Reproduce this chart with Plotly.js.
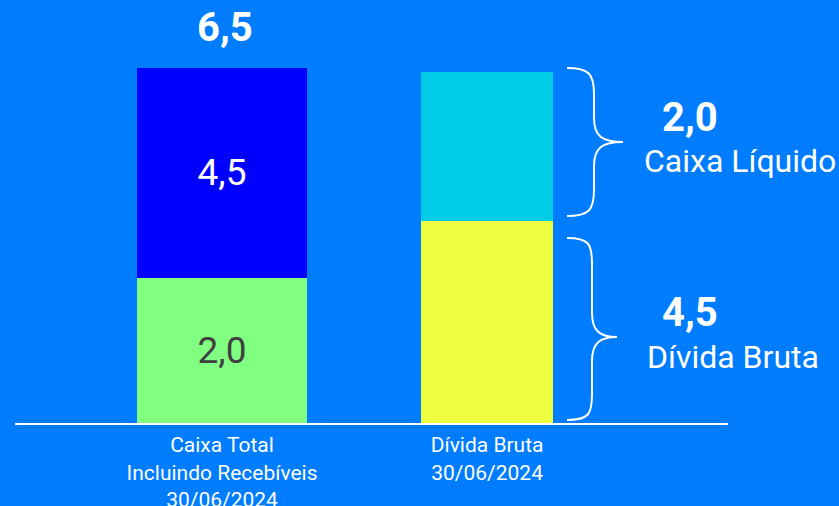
<!DOCTYPE html>
<html>
<head>
<meta charset="utf-8">
<script src="https://cdn.plot.ly/plotly-3.0.1.min.js"></script>
<style>
html,body{margin:0;padding:0;background:#007CFF;}
#chart{width:839px;height:506px;}
</style>
</head>
<body>
<div id="chart"></div>
<script>
// ---- data ----
const categories = ['Caixa Total<br>Incluindo Recebíveis<br>30/06/2024', 'Dívida Bruta<br>30/06/2024'];
// segment heights as drawn in the picture (the picture is not to scale)
const bottomHeights = [2.66, 3.70];
const topHeights = [3.84, 2.73];
// value labels printed on the chart
const bottomLabels = ['2,0', ''];
const topLabels = ['4,5', ''];
const totalLabel = '6,5';
const caixaLiquidoValue = '2,0';
const caixaLiquidoName = 'Caixa Líquido';
const dividaBrutaValue = '4,5';
const dividaBrutaName = 'Dívida Bruta';

// ---- layout helpers ----
const W = 839, H = 506, B = 83;
const PH = H - B;
const pxX = p => p / W;
const pxY = p => 1 - p / PH;
const pxPerUnit = 54.6;

function bracePath(xl, xv, xt, yt, ym, yb) {
  const P = (x, y) => pxX(x).toFixed(5) + ',' + pxY(y).toFixed(5);
  return 'M' + P(xl, yt) +
    ' C' + P(xl + 22, yt) + ' ' + P(xv, yt + 6) + ' ' + P(xv, yt + 26) +
    ' L' + P(xv, ym - 24) +
    ' C' + P(xv, ym - 6) + ' ' + P(xv + 8, ym) + ' ' + P(xt, ym) +
    ' C' + P(xv + 8, ym) + ' ' + P(xv, ym + 6) + ' ' + P(xv, ym + 24) +
    ' L' + P(xv, yb - 26) +
    ' C' + P(xv, yb - 6) + ' ' + P(xl + 22, yb) + ' ' + P(xl, yb);
}

const font = 'Roboto, "Open Sans", sans-serif';
const total = bottomHeights[0] + topHeights[0];

const traces = [
  {
    type: 'bar', x: categories, y: bottomHeights,
    width: [0.642, 0.498],
    marker: {color: ['#80FF80', '#EEFF40'], line: {width: 0}},
    text: bottomLabels, textposition: 'inside', insidetextanchor: 'middle',
    textfont: {family: font, size: 37, color: ['#404040', '#404040']},
    hoverinfo: 'skip'
  },
  {
    type: 'bar', x: categories, y: topHeights,
    width: [0.642, 0.498],
    marker: {color: ['#0000FF', '#00CCE6'], line: {width: 0}},
    text: topLabels, textposition: 'inside', insidetextanchor: 'middle',
    textfont: {family: font, size: 37, color: ['#FFFFFF', '#FFFFFF']},
    hoverinfo: 'skip'
  }
];

const layout = {
  width: W, height: H,
  margin: {l: 0, r: 0, t: 0, b: B, pad: 0},
  paper_bgcolor: '#007CFF', plot_bgcolor: '#007CFF',
  barmode: 'stack', showlegend: false,
  font: {family: font, color: '#FFFFFF'},
  uniformtext: {mode: false},
  xaxis: {
    type: 'category', domain: [15 / W, 728 / W], range: [-0.781, 1.909],
    showline: true, linecolor: '#FFFFFF', linewidth: 2,
    ticks: '', showgrid: false, zeroline: false, ticklabelstandoff: 2,
    tickfont: {family: font, size: 21, color: '#FFFFFF'},
    fixedrange: true
  },
  yaxis: {visible: false, range: [0, PH / pxPerUnit], fixedrange: true},
  annotations: [
    {x: categories[0], y: total, xref: 'x', yref: 'y', text: '<b>' + totalLabel + '</b>',
     showarrow: false, yanchor: 'middle', yshift: 41, xshift: 3,
     font: {family: font, size: 40, color: '#FFFFFF'}},
    {x: pxX(690), y: pxY(118), xref: 'paper', yref: 'paper', text: '<b>' + caixaLiquidoValue + '</b>',
     showarrow: false, xanchor: 'center', yanchor: 'middle',
     font: {family: font, size: 40, color: '#FFFFFF'}},
    {x: pxX(740), y: pxY(161), xref: 'paper', yref: 'paper', text: caixaLiquidoName,
     showarrow: false, xanchor: 'center', yanchor: 'middle',
     font: {family: font, size: 32, color: '#FFFFFF'}},
    {x: pxX(690), y: pxY(312), xref: 'paper', yref: 'paper', text: '<b>' + dividaBrutaValue + '</b>',
     showarrow: false, xanchor: 'center', yanchor: 'middle',
     font: {family: font, size: 40, color: '#FFFFFF'}},
    {x: pxX(733), y: pxY(357), xref: 'paper', yref: 'paper', text: dividaBrutaName,
     showarrow: false, xanchor: 'center', yanchor: 'middle',
     font: {family: font, size: 32, color: '#FFFFFF'}}
  ],
  shapes: [
    {type: 'path', xref: 'paper', yref: 'paper', path: bracePath(567, 594, 623, 68, 142, 216),
     line: {color: '#FFFFFF', width: 2}, fillcolor: 'rgba(0,0,0,0)'},
    {type: 'path', xref: 'paper', yref: 'paper', path: bracePath(567, 592, 617, 238, 337, 420),
     line: {color: '#FFFFFF', width: 2}, fillcolor: 'rgba(0,0,0,0)'}
  ]
};

Plotly.newPlot('chart', traces, layout, {staticPlot: true, displayModeBar: false});
</script>
</body>
</html>
